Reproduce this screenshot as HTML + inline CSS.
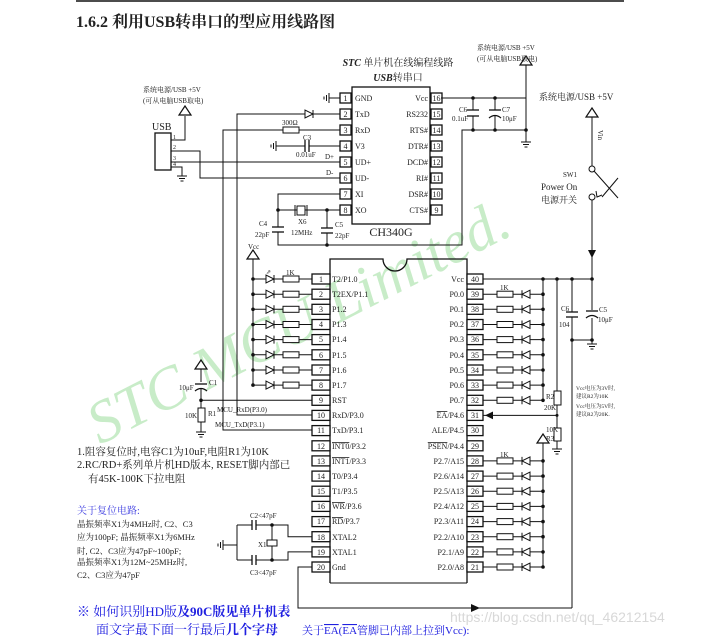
<!DOCTYPE html>
<html><head><meta charset="utf-8"><style>
html,body{margin:0;padding:0;background:#fff}
svg{display:block}
text{font-family:"Liberation Serif","Noto Serif CJK SC","Noto Sans CJK SC",serif;fill:#222}
.p{font-size:8px}
.n{font-size:8px;text-anchor:middle}
.s{font-size:7px}
.z{font-size:9px}
</style></head><body>
<svg width="701" height="639" viewBox="0 0 701 639" xmlns="http://www.w3.org/2000/svg">
<defs>
<g id="gnd"><line x1="0" y1="0" x2="0" y2="4" stroke="#111"/><line x1="-5" y1="4" x2="5" y2="4" stroke="#111"/><line x1="-3" y1="6.5" x2="3" y2="6.5" stroke="#111"/><line x1="-1.5" y1="9" x2="1.5" y2="9" stroke="#111"/></g>
<g id="gndL"><line x1="0" y1="0" x2="-4" y2="0" stroke="#111"/><line x1="-4" y1="-5" x2="-4" y2="5" stroke="#111"/><line x1="-6.5" y1="-3" x2="-6.5" y2="3" stroke="#111"/><line x1="-9" y1="-1.5" x2="-9" y2="1.5" stroke="#111"/></g>
<g id="arr"><polygon points="0,0 -6,9 6,9" fill="#fff" stroke="#111" stroke-width="1.2"/></g>
<g id="ledL"><line x1="253" y1="0" x2="312" y2="0" stroke="#111"/><polygon points="266,-4 266,4 274,0" fill="#fff" stroke="#111"/><line x1="274" y1="-4" x2="274" y2="4" stroke="#111"/><rect x="283" y="-3" width="16" height="6" fill="#fff" stroke="#111"/><circle cx="253" cy="0" r="1.8" fill="#111"/></g>
<g id="ledR"><line x1="483" y1="0" x2="543" y2="0" stroke="#111"/><rect x="497" y="-3" width="16" height="6" fill="#fff" stroke="#111"/><polygon points="530,-4 530,4 522,0" fill="#fff" stroke="#111"/><line x1="522" y1="-4" x2="522" y2="4" stroke="#111"/><circle cx="543" cy="0" r="1.8" fill="#111"/></g>
<g id="pbL"><rect x="312" y="-5" width="18" height="10" fill="#fff" stroke="#111" stroke-width="1.3"/></g>
<g id="pbR"><rect x="467" y="-5" width="16" height="10" fill="#fff" stroke="#111" stroke-width="1.3"/></g>
<g id="pbC"><rect x="0" y="-5" width="11" height="10" fill="#fff" stroke="#111" stroke-width="1.3"/></g>
</defs>

<line x1="76" y1="1" x2="624" y2="1" stroke="#111" stroke-width="1.5"/>
<text x="76" y="27" style="font-size:16px;font-weight:bold">1.6.2  利用USB转串口的型应用线路图</text>

<!-- watermark -->
<text x="100" y="445" transform="rotate(-27 100 445)" style="font-size:60px;font-style:italic;fill:#c8ecc8">STC  MCU  Limited.</text>

<!-- CH340G -->
<text x="398" y="66" text-anchor="middle" style="font-size:10px"><tspan style="font-weight:bold;font-style:italic">STC</tspan> 单片机在线编程线路</text>
<text x="398" y="81" text-anchor="middle" style="font-size:10px"><tspan style="font-weight:bold;font-style:italic">USB</tspan>转串口</text>
<rect x="352" y="87" width="78" height="137" fill="#fff" stroke="#111" stroke-width="1.3"/>
<text x="391" y="236" text-anchor="middle" style="font-size:12px">CH340G</text>
<g>
<use href="#pbC" x="340" y="98"/><use href="#pbC" x="340" y="114"/><use href="#pbC" x="340" y="130"/><use href="#pbC" x="340" y="146"/><use href="#pbC" x="340" y="162"/><use href="#pbC" x="340" y="178"/><use href="#pbC" x="340" y="194"/><use href="#pbC" x="340" y="210"/>
<use href="#pbC" x="431" y="98"/><use href="#pbC" x="431" y="114"/><use href="#pbC" x="431" y="130"/><use href="#pbC" x="431" y="146"/><use href="#pbC" x="431" y="162"/><use href="#pbC" x="431" y="178"/><use href="#pbC" x="431" y="194"/><use href="#pbC" x="431" y="210"/>
</g>
<g class="n"><text x="345.5" y="101">1</text><text x="345.5" y="117">2</text><text x="345.5" y="133">3</text><text x="345.5" y="149">4</text><text x="345.5" y="165">5</text><text x="345.5" y="181">6</text><text x="345.5" y="197">7</text><text x="345.5" y="213">8</text>
<text x="436.5" y="101">16</text><text x="436.5" y="117">15</text><text x="436.5" y="133">14</text><text x="436.5" y="149">13</text><text x="436.5" y="165">12</text><text x="436.5" y="181">11</text><text x="436.5" y="197">10</text><text x="436.5" y="213">9</text></g>
<g class="p"><text x="355" y="101">GND</text><text x="355" y="117">TxD</text><text x="355" y="133">RxD</text><text x="355" y="149">V3</text><text x="355" y="165">UD+</text><text x="355" y="181">UD-</text><text x="355" y="197">XI</text><text x="355" y="213">XO</text></g>
<g class="p" text-anchor="end"><text x="428" y="101">Vcc</text><text x="428" y="117">RS232</text><text x="428" y="133">RTS#</text><text x="428" y="149">DTR#</text><text x="428" y="165">DCD#</text><text x="428" y="181">RI#</text><text x="428" y="197">DSR#</text><text x="428" y="213">CTS#</text></g>

<g stroke="#111" fill="none">
<line x1="333" y1="98" x2="340" y2="98"/>
<polyline points="340,114 237,114 237,415 312,415"/>
<polyline points="340,130 223,130 223,430 312,430"/>
<line x1="280" y1="146" x2="340" y2="146"/>
<polyline points="171,140 185,140 185,116"/>
<polyline points="171,151 200,151 200,178 340,178"/>
<line x1="171" y1="162" x2="340" y2="162"/>
<polyline points="171,167 182,167 182,172"/>
<polyline points="340,194 278,194 278,245 462,245 462,130 526,130"/>
<line x1="278" y1="210" x2="340" y2="210"/>
<line x1="327" y1="210" x2="327" y2="245"/>
<line x1="441" y1="98" x2="526" y2="98"/>
<line x1="526" y1="62" x2="526" y2="138"/>
<line x1="473" y1="98" x2="473" y2="130"/>
<line x1="495" y1="98" x2="495" y2="130"/>
</g>
<use href="#gndL" x="333" y="98"/>
<use href="#gndL" x="280" y="146"/>
<use href="#gnd" x="182" y="172"/>
<use href="#gnd" x="526" y="138"/>
<use href="#arr" x="185" y="106"/>
<use href="#arr" x="526" y="56"/>
<polygon points="305,110 305,118 313,114" fill="#fff" stroke="#111"/><line x1="313" y1="110" x2="313" y2="118" stroke="#111"/>
<rect x="283" y="127" width="16" height="6" fill="#fff" stroke="#111"/>
<text x="282" y="125" class="s">300Ω</text>
<rect x="305" y="140" width="4" height="12" fill="#fff" stroke="none"/>
<line x1="305" y1="140" x2="305" y2="152" stroke="#111" stroke-width="1.3"/><line x1="309" y1="140" x2="309" y2="152" stroke="#111" stroke-width="1.3"/>
<text x="303" y="140" class="s">C3</text><text x="296" y="157" class="s">0.01uF</text>
<text x="325" y="159" class="s">D+</text><text x="326" y="175" class="s">D-</text>
<rect x="297" y="206" width="8" height="9" fill="#fff" stroke="#111"/>
<line x1="295" y1="205" x2="295" y2="216" stroke="#111"/><line x1="307" y1="205" x2="307" y2="216" stroke="#111"/>
<rect x="272" y="227" width="12" height="5" fill="#fff"/><line x1="272" y1="227" x2="284" y2="227" stroke="#111" stroke-width="1.3"/><line x1="272" y1="232" x2="284" y2="232" stroke="#111" stroke-width="1.3"/>
<rect x="321" y="228" width="12" height="5" fill="#fff"/><line x1="321" y1="228" x2="333" y2="228" stroke="#111" stroke-width="1.3"/><line x1="321" y1="233" x2="333" y2="233" stroke="#111" stroke-width="1.3"/>
<g fill="#111"><circle cx="278" cy="210" r="1.8"/><circle cx="327" cy="210" r="1.8"/><circle cx="327" cy="245" r="1.8"/><circle cx="473" cy="98" r="1.8"/><circle cx="495" cy="98" r="1.8"/><circle cx="473" cy="130" r="1.8"/><circle cx="495" cy="130" r="1.8"/><circle cx="526" cy="130" r="1.8"/></g>
<g class="s"><text x="259" y="226">C4</text><text x="255" y="237">22pF</text><text x="298" y="224">X6</text><text x="291" y="235">12MHz</text><text x="335" y="227">C5</text><text x="335" y="238">22pF</text></g>
<rect x="467" y="110" width="12" height="6" fill="#fff"/><line x1="467" y1="110" x2="479" y2="110" stroke="#111" stroke-width="1.3"/><line x1="467" y1="116" x2="479" y2="116" stroke="#111" stroke-width="1.3"/>
<rect x="489" y="110" width="12" height="6" fill="#fff"/><line x1="489" y1="110" x2="501" y2="110" stroke="#111" stroke-width="1.3"/><path d="M489,118 Q495,113 501,118" fill="none" stroke="#111" stroke-width="1.3"/>
<g class="s"><text x="459" y="112">C6</text><text x="452" y="121">0.1uF</text><text x="502" y="112">C7</text><text x="502" y="121">10μF</text></g>
<text x="477" y="50" class="s">系统电源/USB +5V</text><text x="477" y="61" class="s">(可从电脑USB取电)</text>
<text x="143" y="92" class="s">系统电源/USB +5V</text><text x="143" y="103" class="s">(可从电脑USB取电)</text>
<rect x="155" y="133" width="16" height="37" fill="#fff" stroke="#111" stroke-width="1.3"/>
<text x="152" y="130" style="font-size:10px">USB</text>
<g style="font-size:6px"><text x="173" y="139">1</text><text x="173" y="149">2</text><text x="173" y="160">3</text><text x="173" y="166">4</text></g>

<text x="539" y="100" class="z">系统电源/USB +5V</text>
<use href="#arr" x="592" y="108"/>
<line x1="592" y1="117" x2="592" y2="166" stroke="#111"/>
<text x="598" y="130" transform="rotate(90 598 130)" class="s">Vin</text>
<circle cx="592" cy="169" r="3" fill="#fff" stroke="#111"/>
<circle cx="592" cy="197" r="3" fill="#fff" stroke="#111"/>
<line x1="594" y1="171" x2="618" y2="198" stroke="#111"/>
<polyline points="596,191 597,197 602,195" fill="none" stroke="#111"/>
<line x1="602" y1="197" x2="618" y2="178" stroke="#111"/>
<text x="563" y="177" class="s">SW1</text>
<text x="541" y="190" class="z">Power On</text>
<text x="541" y="203" class="z">电源开关</text>
<line x1="592" y1="200" x2="592" y2="279" stroke="#111"/>
<polygon points="588,250 596,250 592,258" fill="#111"/>

<path d="M330,583 V259 H383 A12,12 0 0 0 407,259 H467 V583" fill="none" stroke="#111" stroke-width="1.3"/>
<line x1="330" y1="583" x2="467" y2="583" stroke="#111"/>
<text x="248" y="249" class="s">Vcc</text>
<use href="#arr" x="253" y="250"/>
<line x1="253" y1="259" x2="253" y2="385" stroke="#111"/>
<use href="#ledL" y="279"/><use href="#ledL" y="294.2"/><use href="#ledL" y="309.3"/><use href="#ledL" y="324.5"/><use href="#ledL" y="339.6"/><use href="#ledL" y="354.8"/><use href="#ledL" y="370"/><use href="#ledL" y="385.1"/>
<text x="286" y="275" class="s">1K</text>
<text x="266" y="274" style="font-size:6px">⇗</text>
<use href="#ledR" y="294.2"/><use href="#ledR" y="309.3"/><use href="#ledR" y="324.5"/><use href="#ledR" y="339.6"/><use href="#ledR" y="354.8"/><use href="#ledR" y="370"/><use href="#ledR" y="385.1"/><use href="#ledR" y="400.3"/>
<text x="500" y="290" class="s">1K</text>
<use href="#ledR" y="506.4"/><use href="#ledR" y="521.6"/><use href="#ledR" y="536.7"/><use href="#ledR" y="551.9"/><use href="#ledR" y="567"/>
<use href="#ledR" y="460.9"/><use href="#ledR" y="476.1"/><use href="#ledR" y="491.2"/>
<text x="500" y="457" class="s">1K</text>
<g stroke="#111" fill="none">
<line x1="483" y1="279" x2="592" y2="279"/>
<line x1="543" y1="279" x2="543" y2="400"/>
<line x1="557" y1="279" x2="557" y2="445"/>
<line x1="483" y1="415.4" x2="557" y2="415.4"/>
<line x1="543" y1="443" x2="543" y2="567"/>
<line x1="572" y1="279" x2="572" y2="608"/>
<line x1="592" y1="279" x2="592" y2="340"/>
<line x1="572" y1="340" x2="592" y2="340"/>
<polyline points="312,567 298,567 298,608 572,608"/>
<line x1="201" y1="369" x2="201" y2="428"/>
<line x1="201" y1="400.3" x2="312" y2="400.3"/>
<polyline points="237,525 237,560"/>
<line x1="227" y1="545" x2="237" y2="545"/>
<polyline points="237,525 252,525"/><polyline points="256,525 288,525 288,536.7 312,536.7"/>
<polyline points="237,560 252,560"/><polyline points="256,560 288,560 288,551.9 312,551.9"/>
<line x1="272" y1="525" x2="272" y2="560"/>
</g>
<use href="#gndL" x="227" y="545"/>
<rect x="267" y="540" width="10" height="6" fill="#fff" stroke="#111"/>
<line x1="252" y1="520" x2="252" y2="530" stroke="#111" stroke-width="1.3"/><line x1="256" y1="520" x2="256" y2="530" stroke="#111" stroke-width="1.3"/>
<line x1="252" y1="555" x2="252" y2="565" stroke="#111" stroke-width="1.3"/><line x1="256" y1="555" x2="256" y2="565" stroke="#111" stroke-width="1.3"/>
<g fill="#111"><circle cx="272" cy="525" r="1.8"/><circle cx="272" cy="560" r="1.8"/><circle cx="201" cy="400.3" r="1.8"/><circle cx="543" cy="279" r="1.8"/><circle cx="557" cy="279" r="1.8"/><circle cx="572" cy="279" r="1.8"/><circle cx="592" cy="279" r="1.8"/><circle cx="557" cy="415.4" r="1.5"/><circle cx="572" cy="340" r="1.8"/><circle cx="592" cy="340" r="1.8"/></g>
<polygon points="485,415.4 493,411.5 493,419.3" fill="#111"/>
<polygon points="471,604 471,612 480,608" fill="#111"/>
<g class="s"><text x="250" y="518">C2&lt;47pF</text><text x="250" y="575">C3&lt;47pF</text><text x="258" y="547">X1</text></g>
<use href="#arr" x="201" y="360"/>
<rect x="195" y="382" width="12" height="7" fill="#fff"/>
<line x1="195" y1="384" x2="207" y2="384" stroke="#111" stroke-width="1.3"/><path d="M195,391 Q201,386 207,391" fill="none" stroke="#111" stroke-width="1.3"/>
<rect x="198" y="408" width="7" height="14" fill="#fff" stroke="#111"/>
<use href="#gnd" x="201" y="428"/>
<g class="s"><text x="179" y="390">10μF</text><text x="209" y="385">C1</text><text x="185" y="418">10K</text><text x="208" y="416">R1</text>
<text x="217" y="412">MCU_RxD(P3.0)</text><text x="215" y="427">MCU_TxD(P3.1)</text></g>
<rect x="554" y="391" width="7" height="14" fill="#fff" stroke="#111"/>
<rect x="554" y="428" width="7" height="13" fill="#fff" stroke="#111"/>
<use href="#gnd" x="557" y="445"/>
<use href="#arr" x="543" y="434"/>
<rect x="566" y="312" width="12" height="5" fill="#fff"/><line x1="566" y1="312" x2="578" y2="312" stroke="#111" stroke-width="1.3"/><line x1="566" y1="317" x2="578" y2="317" stroke="#111" stroke-width="1.3"/>
<rect x="586" y="310" width="12" height="8" fill="#fff"/><line x1="586" y1="311" x2="598" y2="311" stroke="#111" stroke-width="1.3"/><path d="M586,318 Q592,313 598,318" fill="none" stroke="#111" stroke-width="1.3"/>
<use href="#gnd" x="592" y="340"/>
<g class="s"><text x="561" y="311">C6</text><text x="559" y="327">104</text><text x="599" y="312">C5</text><text x="598" y="322">10μF</text>
<text x="546" y="399">R2</text><text x="544" y="410">20K</text><text x="546" y="432">10K</text><text x="546" y="441">R3</text></g>
<g style="font-size:5.5px"><text x="576" y="390">Vcc电压为3V时,</text><text x="576" y="398">建议R2为10K</text><text x="576" y="408">Vcc电压为5V时,</text><text x="576" y="416">建议R2为20K.</text></g>

<use href="#pbL" y="279"/><use href="#pbL" y="294.2"/><use href="#pbL" y="309.3"/><use href="#pbL" y="324.5"/><use href="#pbL" y="339.6"/><use href="#pbL" y="354.8"/><use href="#pbL" y="370"/><use href="#pbL" y="385.1"/><use href="#pbL" y="400.3"/><use href="#pbL" y="415.4"/><use href="#pbL" y="430.6"/><use href="#pbL" y="445.8"/><use href="#pbL" y="460.9"/><use href="#pbL" y="476.1"/><use href="#pbL" y="491.2"/><use href="#pbL" y="506.4"/><use href="#pbL" y="521.6"/><use href="#pbL" y="536.7"/><use href="#pbL" y="551.9"/><use href="#pbL" y="567"/>
<use href="#pbR" y="279"/><use href="#pbR" y="294.2"/><use href="#pbR" y="309.3"/><use href="#pbR" y="324.5"/><use href="#pbR" y="339.6"/><use href="#pbR" y="354.8"/><use href="#pbR" y="370"/><use href="#pbR" y="385.1"/><use href="#pbR" y="400.3"/><use href="#pbR" y="415.4"/><use href="#pbR" y="430.6"/><use href="#pbR" y="445.8"/><use href="#pbR" y="460.9"/><use href="#pbR" y="476.1"/><use href="#pbR" y="491.2"/><use href="#pbR" y="506.4"/><use href="#pbR" y="521.6"/><use href="#pbR" y="536.7"/><use href="#pbR" y="551.9"/><use href="#pbR" y="567"/>
<g class="n">
<text x="321" y="282">1</text><text x="321" y="297">2</text><text x="321" y="312">3</text><text x="321" y="327">4</text><text x="321" y="342">5</text><text x="321" y="358">6</text><text x="321" y="373">7</text><text x="321" y="388">8</text><text x="321" y="403">9</text><text x="321" y="418">10</text><text x="321" y="433">11</text><text x="321" y="449">12</text><text x="321" y="464">13</text><text x="321" y="479">14</text><text x="321" y="494">15</text><text x="321" y="509">16</text><text x="321" y="524">17</text><text x="321" y="540">18</text><text x="321" y="555">19</text><text x="321" y="570">20</text>
<text x="475" y="282">40</text><text x="475" y="297">39</text><text x="475" y="312">38</text><text x="475" y="327">37</text><text x="475" y="342">36</text><text x="475" y="358">35</text><text x="475" y="373">34</text><text x="475" y="388">33</text><text x="475" y="403">32</text><text x="475" y="418">31</text><text x="475" y="433">30</text><text x="475" y="449">29</text><text x="475" y="464">28</text><text x="475" y="479">27</text><text x="475" y="494">26</text><text x="475" y="509">25</text><text x="475" y="524">24</text><text x="475" y="540">23</text><text x="475" y="555">22</text><text x="475" y="570">21</text>
</g>
<g class="p">
<text x="332" y="282">T2/P1.0</text><text x="332" y="297">T2EX/P1.1</text><text x="332" y="312">P1.2</text><text x="332" y="327">P1.3</text><text x="332" y="342">P1.4</text><text x="332" y="358">P1.5</text><text x="332" y="373">P1.6</text><text x="332" y="388">P1.7</text><text x="332" y="403">RST</text><text x="332" y="418">RxD/P3.0</text><text x="332" y="433">TxD/P3.1</text><text x="332" y="449"><tspan text-decoration="overline">INT0</tspan>/P3.2</text><text x="332" y="464"><tspan text-decoration="overline">INT1</tspan>/P3.3</text><text x="332" y="479">T0/P3.4</text><text x="332" y="494">T1/P3.5</text><text x="332" y="509"><tspan text-decoration="overline">WR</tspan>/P3.6</text><text x="332" y="524"><tspan text-decoration="overline">RD</tspan>/P3.7</text><text x="332" y="540">XTAL2</text><text x="332" y="555">XTAL1</text><text x="332" y="570">Gnd</text>
</g>
<g class="p" text-anchor="end">
<text x="464" y="282">Vcc</text><text x="464" y="297">P0.0</text><text x="464" y="312">P0.1</text><text x="464" y="327">P0.2</text><text x="464" y="342">P0.3</text><text x="464" y="358">P0.4</text><text x="464" y="373">P0.5</text><text x="464" y="388">P0.6</text><text x="464" y="403">P0.7</text><text x="464" y="418"><tspan text-decoration="overline">EA</tspan>/P4.6</text><text x="464" y="433">ALE/P4.5</text><text x="464" y="449"><tspan text-decoration="overline">PSEN</tspan>/P4.4</text><text x="464" y="464">P2.7/A15</text><text x="464" y="479">P2.6/A14</text><text x="464" y="494">P2.5/A13</text><text x="464" y="509">P2.4/A12</text><text x="464" y="524">P2.3/A11</text><text x="464" y="540">P2.2/A10</text><text x="464" y="555">P2.1/A9</text><text x="464" y="570">P2.0/A8</text>
</g>

<g style="font-size:10.5px">
<text x="77" y="455">1.阻容复位时,电容C1为10uF,电阻R1为10K</text>
<text x="77" y="468">2.RC/RD+系列单片机HD版本, RESET脚内部已</text>
<text x="88" y="482">有45K-100K下拉电阻</text>
</g>
<text x="77" y="514" style="font-size:10px;fill:#3a3ae0">关于复位电路:</text>
<g style="font-size:8.5px;fill:#333">
<text x="77" y="527">晶振频率X1为4MHz时, C2、C3</text>
<text x="77" y="540">应为100pF; 晶振频率X1为6MHz</text>
<text x="77" y="554">时, C2、C3应为47pF~100pF;</text>
<text x="77" y="565">晶振频率X1为12M~25MHz时,</text>
<text x="77" y="578">C2、C3应为47pF</text>
</g>
<text x="77" y="616" style="font-size:13px;fill:#2020e0">※  如何识别HD版<tspan font-weight="bold">及90C版见单片机表</tspan></text>
<text x="96" y="634" style="font-size:13px;fill:#2020e0">面文字最下面一行最后<tspan font-weight="bold">几个字母</tspan></text>
<text x="302" y="634" style="font-size:11px;fill:#2020e0">关于<tspan text-decoration="overline">EA</tspan>(<tspan text-decoration="overline">EA</tspan>管脚已内部上拉到Vcc):</text>
<text x="450" y="622" style="font-family:'Liberation Sans',sans-serif;font-size:14px;fill:#d8d8d8">https://blog.csdn.net/qq_46212154</text>
</svg>
</body></html>
